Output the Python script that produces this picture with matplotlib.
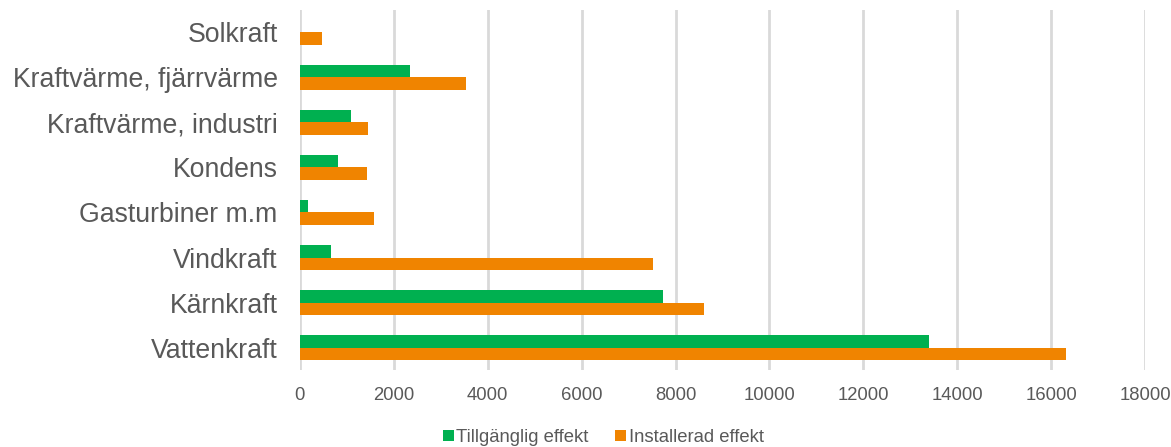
import numpy as np
import matplotlib.pyplot as plt

plt.rcParams['font.family'] = ['Liberation Sans', 'DejaVu Sans']

# categories bottom -> top
categories = ['Vattenkraft', 'Kärnkraft', 'Vindkraft', 'Gasturbiner m.m',
              'Kondens', 'Kraftvärme, industri', 'Kraftvärme, fjärrvärme', 'Solkraft']
tillganglig = [13390, 7730, 660, 180, 810, 1090, 2350, 0]
installerad = [16310, 8600, 7520, 1590, 1430, 1450, 3530, 470]
xticks = [0, 2000, 4000, 6000, 8000, 10000, 12000, 14000, 16000, 18000]

green = '#00B050'
orange = '#F08400'
textc = '#595959'

fig = plt.figure(figsize=(11.71, 4.47), dpi=100)
ax = fig.add_axes([0.256, 0.172, 0.722, 0.806])

y = np.arange(len(categories))
h = 0.275
ax.barh(y + h / 2, tillganglig, height=h, color=green, label='Tillgänglig effekt', zorder=3)
ax.barh(y - h / 2, installerad, height=h, color=orange, label='Installerad effekt', zorder=3)

ax.set_xlim(0, 18000)
ax.set_ylim(-0.5, len(categories) - 0.5)
ax.set_xticks(xticks)
ax.set_xticklabels([str(v) for v in xticks], fontsize=13.3, color=textc)
ax.set_yticks(y)
ax.set_yticklabels(categories, fontsize=19.2, color=textc)
ax.tick_params(length=0)
ax.tick_params(axis='x', pad=12)
ax.tick_params(axis='y', pad=16)
ax.grid(axis='x', color='#D9D9D9', linewidth=2, zorder=0)
for s in ['top', 'right', 'bottom', 'left']:
    ax.spines[s].set_visible(False)

fig.legend(loc='lower center', bbox_to_anchor=(0.515, -0.035), ncol=2, frameon=False,
           fontsize=13.3, labelcolor=textc, handlelength=0.6, handleheight=0.6,
           handletextpad=0.15, columnspacing=1.4)

fig.savefig('out.png', dpi=100)
